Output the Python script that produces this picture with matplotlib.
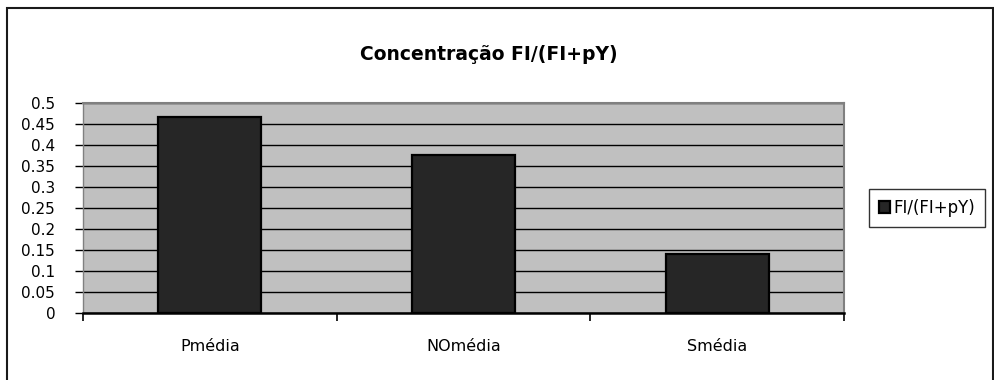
import matplotlib
matplotlib.use("Agg")
import matplotlib.pyplot as plt
from matplotlib.patches import Rectangle
import numpy as np

categories = ["Pmédia", "NOmédia", "Smédia"]
values = [0.467, 0.376, 0.140]
series_name = "FI/(FI+pY)"
yticks = [0, 0.05, 0.1, 0.15, 0.2, 0.25, 0.3, 0.35, 0.4, 0.45, 0.5]
ytick_labels = ["0", "0.05", "0.1", "0.15", "0.2", "0.25", "0.3", "0.35", "0.4", "0.45", "0.5"]

plt.rcParams["font.family"] = ["DejaVu Sans"]

W, H = 995, 380
fig = plt.figure(figsize=(W / 100, H / 100), dpi=100)

# outer chart frame (runs off the bottom of the picture)
fig.patches.append(Rectangle((7 / W, -0.05), (993 - 7) / W, (H - 8) / H + 0.05,
                             transform=fig.transFigure, fill=False,
                             edgecolor="#1a1a1a", linewidth=1.5))

ax = fig.add_axes([83 / W, (H - 313) / H, 761 / W, 210 / H])
ax.set_facecolor("#c0c0c0")

x = np.arange(len(categories))
ax.bar(x, values, width=0.405, color="#262626", edgecolor="black",
       linewidth=1.6, zorder=3, label=series_name)

ax.set_xlim(-0.5, len(categories) - 0.5)
ax.set_ylim(0, 0.5)
ax.set_yticks(yticks)
ax.set_yticklabels(ytick_labels)
ax.yaxis.grid(True, color="black", linewidth=1.0)
ax.set_axisbelow(True)

ax.set_xticks(x)
ax.set_xticklabels(categories)
ax.set_xticks(np.arange(-0.5, len(categories)), minor=True)
ax.tick_params(axis="x", which="major", length=0, pad=19, labelsize=11.5)
ax.tick_params(axis="x", which="minor", length=6, width=1.2, direction="out")
ax.tick_params(axis="y", length=6, width=1.0, direction="out", pad=14, labelsize=11)

for s in ["top", "right"]:
    ax.spines[s].set_color("#808080")
    ax.spines[s].set_linewidth(1.5)
ax.spines["left"].set_color("#808080")
ax.spines["left"].set_linewidth(1.0)
ax.spines["bottom"].set_color("black")
ax.spines["bottom"].set_linewidth(1.8)

fig.text(489 / W, 1 - 55 / H, "Concentração FI/(FI+pY)", ha="center", va="center",
         fontsize=13.5, fontweight="bold")

leg = fig.legend(loc="center", bbox_to_anchor=(927 / W, 1 - 208 / H),
                 frameon=True, fancybox=False, fontsize=12,
                 handlelength=0.7, handleheight=0.7, handletextpad=0.2,
                 borderpad=0.6, borderaxespad=0.0)
leg.get_frame().set_edgecolor("black")
leg.get_frame().set_linewidth(1.0)

fig.savefig("out.png", dpi=100)
